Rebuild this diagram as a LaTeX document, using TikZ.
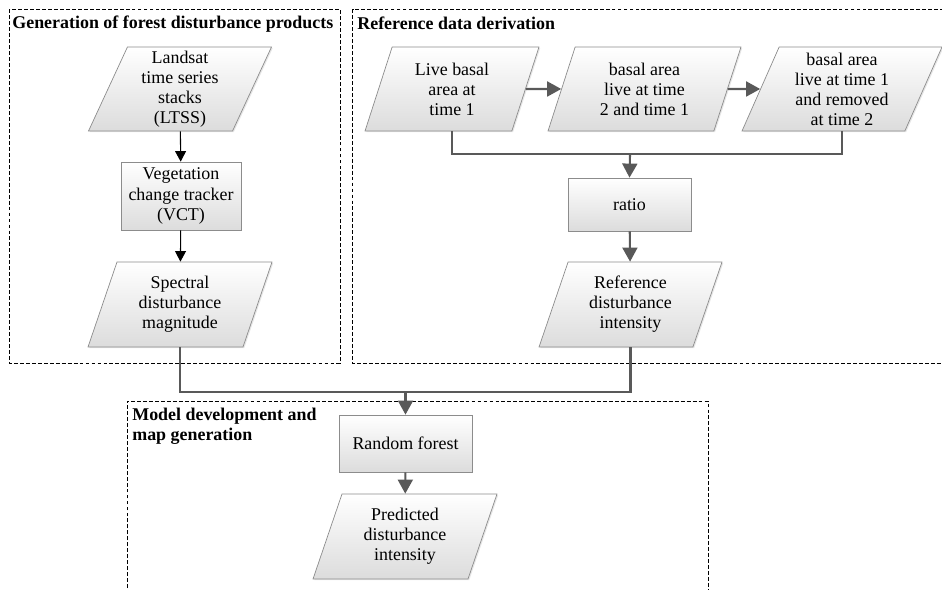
\documentclass[tikz,border=0pt]{standalone}
\usepackage{fontspec}
\setmainfont{Liberation Serif}
\usetikzlibrary{shapes.geometric,arrows.meta,shadows}
\definecolor{lngray}{HTML}{595959}
\definecolor{edgegray}{HTML}{8C8C8C}
\definecolor{shadegray}{HTML}{DCDCDC}

\begin{document}
\begin{tikzpicture}[x=0.02cm,y=-0.02cm,
  font=\fontsize{10.2}{11.4}\selectfont,
  box/.style={draw=edgegray, top color=white, bottom color=shadegray, align=center,
    drop shadow={opacity=0.2, shadow xshift=0.7pt, shadow yshift=-0.7pt}},
  proc/.style={box, rectangle, inner sep=1pt},
  io/.style={box, trapezium, trapezium left angle=63.5, trapezium right angle=116.5,
    trapezium stretches body, inner sep=0.5pt},
  grp/.style={draw=black, line width=0.5pt, dash pattern=on 2.2pt off 1.2pt},
  ttl/.style={font=\fontsize{10.2}{11.4}\selectfont\bfseries, inner sep=0pt, anchor=west, align=left},
  flow/.style={draw=lngray, line width=1.2pt, -{Triangle[length=8pt,width=8.5pt]}},
  link/.style={draw=lngray, line width=1.2pt},
  blk/.style={draw=black, line width=0.6pt, -{Triangle[length=6pt,width=6.2pt]}}
]

\useasboundingbox (0,0) rectangle (942,590);

%group frames
\draw[grp] (9,9.5) rectangle (340,363);
\draw[grp] (950,9.5) -- (352.5,9.5) -- (352.5,363) -- (950,363);
\draw[grp] (127,600) -- (127,401) -- (708,401) -- (708,600);

\node[ttl] (t1) at (12,24) {Generation of forest disturbance products};
\node[ttl] (t2) at (357,23) {Reference data derivation};
\node[ttl] (t3) at (132,426) {Model development and\\map generation};

% disturbance products
\node[io, minimum width=3.66cm, minimum height=1.68cm] (ltss) at (180,89) {Landsat\\time series\\stacks\\(LTSS)};
\node[proc, minimum width=2.4cm, minimum height=1.36cm] (vct) at (181,196) {Vegetation\\change tracker\\(VCT)};
\node[io, minimum width=3.68cm, minimum height=1.7cm] (sdm) at (180,304.5) {Spectral\\disturbance\\magnitude};

\draw[blk] (ltss) -- (vct);
\draw[blk] (vct) -- (sdm);

% reference data
\node[io, minimum width=3.48cm, minimum height=1.68cm] (lba) at (452,89) {Live basal\\area at\\time 1};
\node[io, minimum width=3.86cm, minimum height=1.68cm] (bal) at (644.5,89) {basal area\\live at time\\2 and time 1};
\node[io, minimum width=4cm, minimum height=1.68cm] (bar) at (842,89) {basal area\\live at time 1\\and removed\\at time 2};
\node[proc, minimum width=2.46cm, minimum height=1.06cm] (ratio) at (629.5,204.5) {ratio};
\node[io, minimum width=3.66cm, minimum height=1.7cm] (rdi) at (630.5,304.5) {Reference\\disturbance\\intensity};

\draw[flow] (lba) -- (bal);
\draw[flow] (bal) -- (bar);
\coordinate (mtop) at (630,154);
\draw[link] (lba.south) |- (mtop);
\draw[link] (bar.south) |- (mtop);
\draw[flow] (mtop) -- (ratio.north);
\draw[flow] (ratio) -- (rdi);

% model and map
\node[proc, minimum width=2.66cm, minimum height=1.14cm] (rf) at (405.5,443.5) {Random forest};
\node[io, minimum width=3.68cm, minimum height=1.7cm] (pdi) at (405,536.5) {Predicted\\disturbance\\intensity};

\coordinate (mbot) at (405.5,392);
\draw[link] (sdm.south) |- (mbot);
\draw[link] (rdi.south) |- (mbot);
\draw[flow] (mbot) -- (rf.north);
\draw[flow] (rf) -- (pdi);

\end{tikzpicture}
\end{document}
